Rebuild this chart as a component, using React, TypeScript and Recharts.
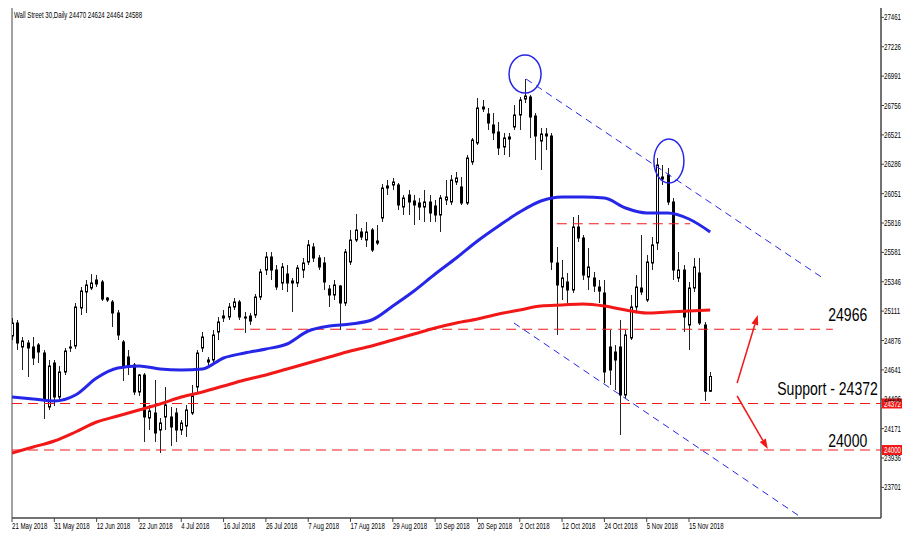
import {
  Bar,
  ComposedChart,
  Line,
  ReferenceArea,
  ReferenceDot,
  ReferenceLine,
  XAxis,
  YAxis,
} from "recharts";

// daily OHLC, 21 May 2018 .. 21 Nov 2018 (one entry per bar)
const opens = [
  24912, 25016, 24824, 24856, 24824, 24840, 24776, 24344, 24696, 24424,
  24624, 24816, 24832, 25136, 25264, 25296, 25360, 25344, 25216, 25184,
  25096, 24864, 24744, 24680, 24464, 24600, 24256, 24296, 24160, 24264,
  24264, 24296, 24160, 24192, 24296, 24504, 24816, 24720, 24720, 24944,
  25072, 25064, 25144, 25184, 25064, 25072, 25080, 25224, 25440, 25544,
  25440, 25336, 25408, 25352, 25336, 25440, 25504, 25624, 25536, 25496,
  25288, 25240, 25312, 25176, 25504, 25680, 25744, 25680, 25760, 25672,
  25856, 26112, 26120, 26120, 25944, 26040, 25992, 25976, 25944, 25984,
  25952, 25880, 26000, 25984, 26144, 26104, 25976, 26304, 26456, 26744,
  26688, 26600, 26544, 26424, 26488, 26584, 26680, 26808, 26824, 26672,
  26472, 26528, 26512, 25496, 25304, 25344, 25280, 25784, 25696, 25384,
  25376, 25304, 25256, 24824, 24784, 24824, 24440, 24896, 25144, 25296,
  25200, 25496, 25656, 26168, 26200, 25984, 25376, 25440, 25000, 25296,
  25416, 25000, 24470,
];
const highs = [
  25056, 25040, 24904, 24880, 24904, 24856, 24800, 24720, 24720, 24672,
  24816, 24880, 25176, 25304, 25360, 25408, 25400, 25360, 25224, 25200,
  25120, 24880, 24800, 24696, 24608, 24616, 24360, 24560, 24256, 24504,
  24344, 24336, 24240, 24360, 24520, 24800, 24944, 24744, 24960, 25064,
  25120, 25176, 25216, 25200, 25104, 25096, 25248, 25448, 25584, 25584,
  25480, 25496, 25480, 25376, 25480, 25536, 25680, 25656, 25560, 25544,
  25320, 25360, 25320, 25608, 25760, 25888, 25776, 25824, 25776, 25800,
  26128, 26160, 26176, 26136, 26040, 26080, 26040, 26016, 26080, 26040,
  26000, 26040, 26160, 26200, 26224, 26184, 26360, 26496, 26816, 26800,
  26736, 26696, 26624, 26536, 26536, 26760, 26824, 26968, 26840, 26696,
  26576, 26576, 26536, 25624, 25520, 25416, 25864, 25880, 25720, 25616,
  25424, 25360, 25360, 24960, 24840, 25040, 24960, 25240, 25400, 25720,
  25560, 25704, 26336, 26280, 26256, 26016, 25584, 25480, 25344, 25536,
  25536, 25024, 24624,
];
const lows = [
  24880, 24800, 24640, 24584, 24680, 24696, 24248, 24320, 24352, 24384,
  24600, 24784, 24808, 25080, 25096, 25280, 25304, 25192, 25184, 24984,
  24880, 24552, 24600, 24440, 24432, 24064, 24160, 24064, 23976, 24160,
  24032, 24064, 24120, 24104, 24280, 24464, 24784, 24672, 24696, 24880,
  25024, 25040, 25120, 25040, 24936, 25000, 25056, 25200, 25400, 25360,
  25280, 25280, 25264, 25104, 25304, 25376, 25480, 25504, 25440, 25280,
  25144, 25200, 24960, 25152, 25480, 25664, 25680, 25624, 25584, 25640,
  25824, 26040, 26080, 25920, 25880, 25880, 25800, 25840, 25824, 25824,
  25824, 25744, 25960, 25960, 26120, 25960, 25960, 26280, 26440, 26704,
  26560, 26480, 26360, 26360, 26344, 26560, 26560, 26776, 26496, 26320,
  26240, 26400, 25440, 24920, 25200, 25176, 25256, 25664, 25360, 25280,
  25264, 25176, 24536, 24520, 24480, 24120, 24416, 24880, 25104, 25240,
  25184, 25440, 25600, 26120, 25960, 25360, 25344, 24944, 24800, 25264,
  25000, 24392, 24464,
];
const closes = [
  25016, 24856, 24872, 24816, 24736, 24784, 24400, 24672, 24424, 24624,
  24792, 24824, 25144, 25272, 25320, 25336, 25328, 25208, 25200, 25096,
  24920, 24664, 24664, 24464, 24600, 24264, 24312, 24136, 24216, 24360,
  24184, 24160, 24216, 24320, 24432, 24776, 24904, 24704, 24920, 25024,
  25056, 25144, 25184, 25064, 25056, 25032, 25224, 25424, 25544, 25440,
  25304, 25464, 25336, 25336, 25456, 25496, 25640, 25536, 25464, 25344,
  25240, 25320, 25176, 25584, 25680, 25760, 25704, 25744, 25600, 25656,
  26096, 26096, 26144, 25960, 26016, 25984, 25960, 25944, 25984, 25896,
  25880, 26016, 26024, 26160, 26176, 25976, 26336, 26480, 26736, 26728,
  26616, 26536, 26416, 26496, 26504, 26680, 26800, 26832, 26664, 26512,
  26528, 26512, 25504, 25320, 25376, 25280, 25784, 25696, 25400, 25464,
  25312, 25272, 24624, 24640, 24720, 24440, 24920, 25144, 25304, 25264,
  25504, 25640, 26280, 26184, 25984, 25440, 25440, 25064, 25296, 25464,
  25016, 24470, 24588,
];

// moving averages, read every 4th bar
const maBars = [
  0, 4, 8, 12, 16, 20, 24, 28, 32, 36, 40, 44, 48, 52, 56, 60, 64, 68, 72,
  76, 80, 84, 88, 92, 96, 100, 104, 108, 112, 116, 120, 124, 128, 132,
];
const blueMa = [
  24424, 24408, 24392, 24440, 24576, 24656, 24672, 24648, 24640, 24648,
  24736, 24776, 24808, 24848, 24952, 24992, 25008, 25040, 25152, 25272,
  25408, 25536, 25672, 25792, 25904, 25992, 26024, 26024, 26016, 25936,
  25896, 25896, 25848, 25744,
];
const redMa = [
  23976, 24024, 24072, 24144, 24224, 24272, 24320, 24368, 24424, 24464,
  24512, 24560, 24600, 24648, 24696, 24744, 24792, 24832, 24880, 24928,
  24976, 25016, 25048, 25088, 25120, 25152, 25160, 25168, 25152, 25120,
  25096, 25104, 25112, 25120,
];

const dateTicks = [0, 8, 16, 24, 32, 40, 48, 56, 64, 72, 80, 88, 96, 104, 112, 120, 128];
const dateLabels = [
  "21 May 2018", "31 May 2018", "12 Jun 2018", "22 Jun 2018", "4 Jul 2018",
  "16 Jul 2018", "26 Jul 2018", "7 Aug 2018", "17 Aug 2018", "29 Aug 2018",
  "10 Sep 2018", "20 Sep 2018", "2 Oct 2018", "12 Oct 2018", "24 Oct 2018",
  "5 Nov 2018", "15 Nov 2018",
];
const priceTicks = [
  23701, 23936, 24171, 24406, 24641, 24876, 25111, 25346, 25581, 25816,
  26051, 26286, 26521, 26756, 26991, 27226, 27461,
];

const resistance = 24966;
const support = 24372;
const target = 24000;
const rangeTop = 25810;

const rows = opens.map((o, i) => {
  const k = maBars.indexOf(i);
  return {
    i,
    o,
    h: highs[i],
    l: lows[i],
    c: closes[i],
    range: [lows[i], highs[i]],
    blue: k >= 0 ? blueMa[k] : null,
    red: k >= 0 ? redMa[k] : null,
  };
});

const X_MAX = 164.3;
const Y_MIN = 23456;
const Y_MAX = 27544;
const RED = "#f21818";
const BLUE = "#2626e8";
const SMALL = "'Liberation Sans', Arial, sans-serif";

function Narrow({ x, y, size, scale, anchor = "start", fill = "#000", children }: any) {
  return (
    <text
      transform={`translate(${x} ${y}) scale(${scale} 1)`}
      x={0}
      y={0}
      fontFamily={SMALL}
      fontSize={size}
      fill={fill}
      textAnchor={anchor}
    >
      {children}
    </text>
  );
}

function Candle(props: any) {
  const { x, y, width, height, payload } = props;
  if (!payload || x == null || y == null) return null;
  const { o, h, l, c } = payload;
  const top = Math.min(y, y + height);
  const span = Math.abs(height);
  const yOf = (v: number) => (h === l ? top : top + ((h - v) / (h - l)) * span);
  const cx = Math.round(x + width / 2) + 0.5;
  const bodyTop = yOf(Math.max(o, c));
  const bodyH = Math.max(1, yOf(Math.min(o, c)) - bodyTop);
  return (
    <g>
      <line x1={cx} x2={cx} y1={top} y2={top + span} stroke="#222" strokeWidth={1} />
      <rect
        x={cx - 1}
        y={bodyTop}
        width={2}
        height={bodyH}
        fill={c >= o ? "#fff" : "#000"}
        stroke="#000"
        strokeWidth={1}
      />
    </g>
  );
}

function DateTick(props: any) {
  const { x, y, payload } = props;
  const k = dateTicks.indexOf(payload.value);
  if (k < 0) return null;
  return (
    <Narrow x={x} y={y + 6} size={8.5} scale={0.72}>
      {dateLabels[k]}
    </Narrow>
  );
}

function PriceTick(props: any) {
  const { x, y, payload } = props;
  return (
    <Narrow x={x - 1} y={y + 3} size={8.5} scale={0.72}>
      {payload.value}
    </Narrow>
  );
}

// red price tag drawn on the right axis
const badge = (value: number) => (p: any) =>
  (
    <g>
      <rect x={p.cx + 1} y={p.cy - 5} width={21} height={10} fill={RED} />
      <Narrow x={p.cx + 11.5} y={p.cy + 3} size={8.5} scale={0.72} anchor="middle" fill="#fff">
        {value}
      </Narrow>
    </g>
  );

function Arrow(props: any) {
  const { x1, y1, x2, y2 } = props;
  const ang = Math.atan2(y2 - y1, x2 - x1);
  const len = 10;
  const half = 3.5;
  const bx = x2 - len * Math.cos(ang);
  const by = y2 - len * Math.sin(ang);
  const px = -Math.sin(ang) * half;
  const py = Math.cos(ang) * half;
  return (
    <g>
      <line x1={x1} y1={y1} x2={bx} y2={by} stroke={RED} strokeWidth={1.5} />
      <polygon points={`${x2},${y2} ${bx + px},${by + py} ${bx - px},${by - py}`} fill={RED} />
    </g>
  );
}

const ellipse = (rx: number, ry: number) => (p: any) =>
  <ellipse cx={p.cx} cy={p.cy} rx={rx} ry={ry} fill="none" stroke={BLUE} strokeWidth={1.5} />;

const bigLabel = (text: string, dy: number) => (p: any) =>
  (
    <Narrow x={p.cx} y={p.cy + dy} size={18} scale={0.78} anchor="end">
      {text}
    </Narrow>
  );

export default function App() {
  return (
    <div style={{ margin: -8, position: "relative", width: 910, height: 548, background: "#fff" }}>
      <ComposedChart
        width={910}
        height={548}
        data={rows}
        margin={{ top: 7, right: 0, bottom: 0, left: 12 }}
      >
        <XAxis
          dataKey="i"
          type="number"
          domain={[0, X_MAX]}
          ticks={dateTicks}
          interval={0}
          allowDataOverflow
          height={30}
          tickSize={4}
          tickMargin={1}
          tick={<DateTick />}
          axisLine={{ stroke: "#444" }}
          tickLine={{ stroke: "#444" }}
        />
        <YAxis
          orientation="right"
          type="number"
          domain={[Y_MIN, Y_MAX]}
          ticks={priceTicks}
          interval={0}
          allowDataOverflow
          width={29}
          tickSize={3}
          tickMargin={1}
          tick={<PriceTick />}
          axisLine={{ stroke: "#444" }}
          tickLine={{ stroke: "#444" }}
        />
        <ReferenceArea
          x1={0}
          x2={X_MAX}
          y1={Y_MIN}
          y2={Y_MAX}
          fill="none"
          stroke="#444"
          ifOverflow="visible"
        />
        <ReferenceLine
          segment={[{ x: 42, y: resistance }, { x: 155.2, y: resistance }]}
          stroke={RED}
          strokeDasharray="10 6"
          ifOverflow="visible"
        />
        <ReferenceLine
          segment={[{ x: 103, y: rangeTop }, { x: 128.2, y: rangeTop }]}
          stroke={RED}
          strokeDasharray="10 6"
          ifOverflow="visible"
        />
        <ReferenceLine
          segment={[{ x: 0, y: support }, { x: X_MAX, y: support }]}
          stroke={RED}
          strokeDasharray="10 6"
          ifOverflow="visible"
        />
        <ReferenceLine
          segment={[{ x: 0, y: target }, { x: X_MAX, y: target }]}
          stroke={RED}
          strokeDasharray="10 6"
          ifOverflow="visible"
        />
        <ReferenceLine
          segment={[{ x: 97.2, y: 26968 }, { x: 153.3, y: 25376 }]}
          stroke={BLUE}
          strokeDasharray="7 5"
          ifOverflow="visible"
        />
        <ReferenceLine
          segment={[{ x: 94.9, y: 25016 }, { x: 149.4, y: 23456 }]}
          stroke={BLUE}
          strokeDasharray="7 5"
          ifOverflow="visible"
        />
        <Line
          dataKey="red"
          type="monotone"
          stroke={RED}
          strokeWidth={3}
          dot={false}
          connectNulls
          isAnimationActive={false}
        />
        <Line
          dataKey="blue"
          type="monotone"
          stroke={BLUE}
          strokeWidth={3}
          dot={false}
          connectNulls
          isAnimationActive={false}
        />
        <Bar
          dataKey="range"
          barSize={3}
          shape={(p: any) => <Candle {...p} />}
          isAnimationActive={false}
        />
        <ReferenceDot x={97} y={27008} r={16} shape={ellipse(16, 19)} ifOverflow="visible" />
        <ReferenceDot x={124.2} y={26312} r={16} shape={ellipse(15, 22)} ifOverflow="visible" />
        <ReferenceLine
          segment={[{ x: 137.1, y: 24536 }, { x: 141.0, y: 25080 }]}
          shape={(p: any) => <Arrow {...p} />}
          ifOverflow="visible"
        />
        <ReferenceLine
          segment={[{ x: 137.1, y: 24432 }, { x: 142.9, y: 24008 }]}
          shape={(p: any) => <Arrow {...p} />}
          ifOverflow="visible"
        />
        <ReferenceDot x={161.7} y={resistance} r={1} shape={bigLabel(String(resistance), -8)} ifOverflow="visible" />
        <ReferenceDot x={163.7} y={support} r={1} shape={bigLabel(`Support - ${support}`, -9)} ifOverflow="visible" />
        <ReferenceDot x={161.7} y={target} r={1} shape={bigLabel(String(target), -3)} ifOverflow="visible" />
        <ReferenceDot x={X_MAX} y={support} r={1} shape={badge(support)} ifOverflow="visible" />
        <ReferenceDot x={X_MAX} y={target} r={1} shape={badge(target)} ifOverflow="visible" />
      </ComposedChart>
      <svg
        width={300}
        height={24}
        style={{ position: "absolute", left: 0, top: 0, pointerEvents: "none" }}
      >
        <Narrow x={14} y={18} size={8.5} scale={0.72}>
          Wall Street 30,Daily  24470 24624 24464 24588
        </Narrow>
      </svg>
    </div>
  );
}
